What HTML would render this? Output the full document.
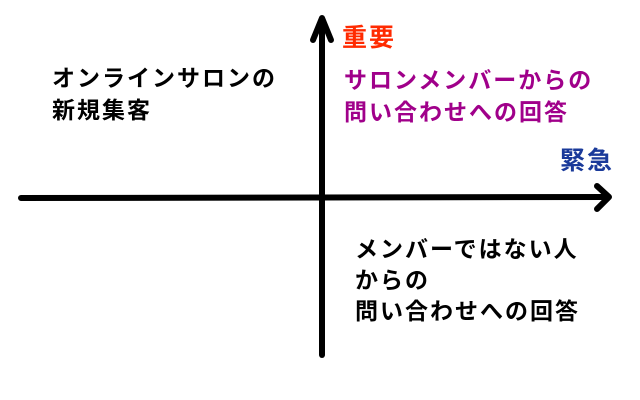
<!DOCTYPE html>
<html><head><meta charset="utf-8"><style>
body{margin:0;width:640px;height:400px;background:#fff;overflow:hidden;position:relative;font-family:"Liberation Sans","Noto Sans CJK JP",sans-serif;font-weight:bold}
.t{position:absolute;white-space:nowrap;font-size:23px;line-height:32px;letter-spacing:2px}
</style></head><body>
<svg width="640" height="400" style="position:absolute;left:0;top:0">
<g stroke="#000" stroke-width="6" stroke-linecap="round" stroke-linejoin="round" fill="none">
<line x1="21" y1="198" x2="608" y2="197"/>
<line x1="322" y1="19" x2="322" y2="355"/>
<polyline points="313,40 322,18 331,40"/>
<polyline points="597,186 609,197 597,209"/>
</g></svg>
<div class="t" style="left:52px;top:62px;color:#000">オンラインサロンの<br>新規集客</div>
<div class="t" style="left:342px;top:22px;color:#ff2a00;font-size:25px">重要</div>
<div class="t" style="left:344px;top:64px;color:#a0008a">サロンメンバーからの<br>問い合わせへの回答</div>
<div class="t" style="left:560px;top:145px;color:#1a3a9a;font-size:25px">緊急</div>
<div class="t" style="left:355px;top:234px;color:#000;line-height:31px">メンバーではない人<br>からの<br>問い合わせへの回答</div>
</body></html>
